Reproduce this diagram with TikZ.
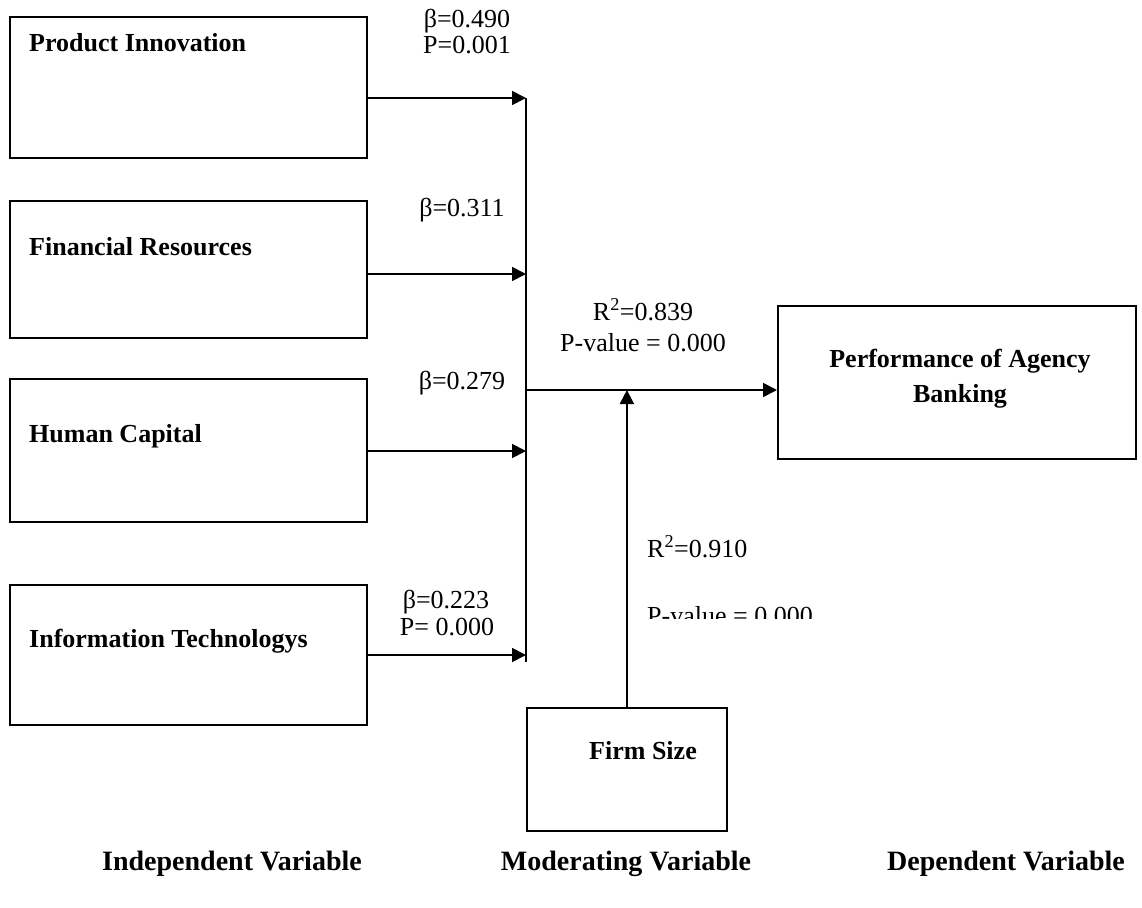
\documentclass[tikz,border=0pt]{standalone}
\usepackage{fontspec}
\setmainfont{Liberation Serif}
\usetikzlibrary{arrows.meta}
\begin{document}
\begin{tikzpicture}[x=1pt,y=-1pt,
  box/.style={draw,line width=1.8pt,inner sep=0pt,anchor=north west},
  boxtext/.style={font=\fontsize{26}{30}\selectfont\bfseries,inner sep=0pt},
  lab/.style={font=\fontsize{26}{30}\selectfont,inner sep=0pt,anchor=base},
  foot/.style={font=\fontsize{28}{34}\selectfont\bfseries,inner sep=0pt,anchor=base},
  conn/.style={line width=1.8pt},
  arr/.style={line width=1.8pt,-{Triangle[length=14pt,width=14pt]}}]
\useasboundingbox (0,0) rectangle (1142,907);
% boxes
\node[box,minimum width=357pt,minimum height=141pt] (pi) at (9,16) {};
\node[box,minimum width=357pt,minimum height=137pt] (fr) at (9,200) {};
\node[box,minimum width=357pt,minimum height=143pt] (hc) at (9,378) {};
\node[box,minimum width=357pt,minimum height=140pt] (it) at (9,584) {};
\node[box,minimum width=358pt,minimum height=153pt] (pab) at (777,305) {};
\node[box,minimum width=200pt,minimum height=123pt] (fs) at (526,707) {};
% box texts
\node[boxtext,anchor=base west] (tpi) at (29,52) {Product Innovation};
\node[boxtext,anchor=base west] (tfr) at (29,255) {Financial Resources};
\node[boxtext,anchor=base west] (thc) at (29,442) {Human Capital};
\node[boxtext,anchor=base west] (tit) at (29,647) {Information Technologys};
\node[boxtext,anchor=base] (tpab1) at (960,367) {Performance of Agency};
\node[boxtext,anchor=base] (tpab2) at (960,402) {Banking};
\node[boxtext,anchor=base] (tfs) at (643,759) {Firm Size};
% connector points
\coordinate (b1) at (526,98);
\coordinate (b2) at (526,274);
\coordinate (b3) at (526,451);
\coordinate (b4) at (526,655);
\coordinate (bb) at (526,662);
\coordinate (j) at (526,390);
% connectors
\draw[conn] (b1) -- (bb);
\draw[arr] (pi.east |- b1) -- (b1);
\draw[arr] (fr.east |- b2) -- (b2);
\draw[arr] (hc.east |- b3) -- (b3);
\draw[arr] (it.east |- b4) -- (b4);
\draw[arr] (j) -- (j -| pab.west);
\draw[arr] (fs.north) -- (fs.north |- j);
% labels
\node[lab] (l1a) at (467,28) {β=0.490};
\node[lab] (l1b) at (467,53) {P=0.001};
\node[lab] (l2) at (462,216) {β=0.311};
\node[lab] (l3) at (462,389) {β=0.279};
\node[lab] (l4a) at (446,608) {β=0.223};
\node[lab] (l4b) at (447,635) {P= 0.000};
\node[lab] (r1a) at (643,320) {R\textsuperscript{2}=0.839};
\node[lab] (r1b) at (643,351) {P-value = 0.000};
\node[lab,anchor=base west] (r2a) at (647,557) {R\textsuperscript{2}=0.910};
\begin{scope}
\clip (600,590) rectangle (900,618);
\node[lab,anchor=base west] (r2b) at (647,624) {P-value = 0.000};
\end{scope}
% footers
\node[foot] (f1) at (232,870) {Independent Variable};
\node[foot] (f2) at (626,870) {Moderating Variable};
\node[foot] (f3) at (1006,870) {Dependent Variable};
\end{tikzpicture}
\end{document}
